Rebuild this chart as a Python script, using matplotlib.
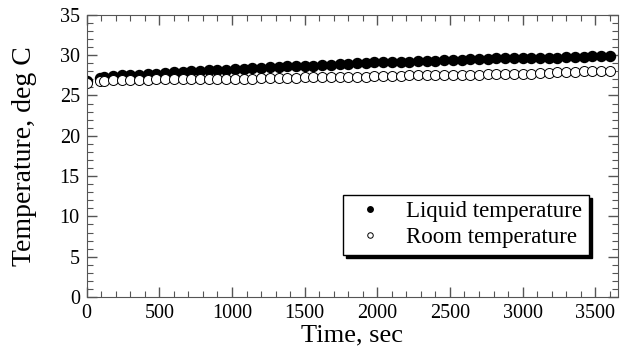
import matplotlib
matplotlib.use("Agg")
import matplotlib.pyplot as plt
from matplotlib.ticker import MultipleLocator

# sample times, sec
time_s = [0, 90, 120, 180, 240, 300, 360, 420, 480, 540,
          600, 660, 720, 780, 840, 900, 960, 1020, 1080, 1140,
          1200, 1260, 1320, 1380, 1440, 1500, 1560, 1620, 1680, 1740,
          1800, 1860, 1920, 1980, 2040, 2100, 2160, 2220, 2280, 2340,
          2400, 2460, 2520, 2580, 2640, 2700, 2760, 2820, 2880, 2940,
          3000, 3060, 3120, 3180, 3240, 3300, 3360, 3420, 3480, 3540,
          3600]

liquid_temp = [26.8, 27.2, 27.3, 27.4, 27.5, 27.5, 27.6, 27.7, 27.7, 27.8,
               27.9, 27.9, 28.0, 28.0, 28.1, 28.2, 28.2, 28.3, 28.3, 28.4,
               28.4, 28.5, 28.5, 28.6, 28.6, 28.7, 28.7, 28.8, 28.8, 28.9,
               28.9, 29.0, 29.0, 29.1, 29.1, 29.1, 29.2, 29.2, 29.3, 29.3,
               29.3, 29.4, 29.4, 29.4, 29.5, 29.5, 29.5, 29.6, 29.6, 29.6,
               29.6, 29.7, 29.7, 29.7, 29.7, 29.8, 29.8, 29.8, 29.9, 29.9,
               29.9]

room_temp = [26.6, 26.8, 26.8, 26.9, 26.9, 26.9, 26.9, 26.9, 27.0, 27.0,
             27.0, 27.0, 27.0, 27.0, 27.0, 27.1, 27.1, 27.1, 27.1, 27.1,
             27.2, 27.2, 27.2, 27.2, 27.2, 27.3, 27.3, 27.3, 27.3, 27.3,
             27.3, 27.3, 27.3, 27.4, 27.4, 27.4, 27.4, 27.5, 27.5, 27.5,
             27.5, 27.6, 27.6, 27.6, 27.6, 27.6, 27.7, 27.7, 27.7, 27.7,
             27.7, 27.7, 27.8, 27.8, 27.9, 27.9, 27.9, 28.0, 28.0, 28.0,
             28.0]

plt.rcParams['font.family'] = ['Liberation Serif', 'DejaVu Serif']

fig = plt.figure(figsize=(6.24, 3.54), dpi=100)
ax = fig.add_axes([0.139, 0.161, 0.851, 0.797])

ax.plot(time_s, liquid_temp, 'o', color='black', markersize=7.2,
        label='Liquid temperature')
ax.plot(time_s, room_temp, 'o', markerfacecolor='white', markeredgecolor='black',
        markeredgewidth=0.7, markersize=7.2, label='Room temperature')

ax.set_xlim(0, 3655)
ax.set_ylim(0, 35)
ax.xaxis.set_major_locator(MultipleLocator(500))
ax.xaxis.set_minor_locator(MultipleLocator(100))
ax.yaxis.set_major_locator(MultipleLocator(5))
ax.yaxis.set_minor_locator(MultipleLocator(1))
ax.tick_params(which='both', direction='in', top=True, right=True,
               color='#555555', labelsize=14.5, pad=5)
ax.tick_params(which='major', length=7, width=1)
ax.tick_params(which='minor', length=4, width=0.8)
for sp in ax.spines.values():
    sp.set_color('#555555')

ax.set_xlabel('Time, sec', fontsize=19, labelpad=1)
ax.set_ylabel('Temperature, deg C', fontsize=20, labelpad=16)

leg = ax.legend(loc='lower right', bbox_to_anchor=(0.945, 0.149),
                borderaxespad=0, fontsize=16.5, markerscale=0.55,
                fancybox=False, frameon=True, handletextpad=0.7,
                handlelength=1.75, labelspacing=0.2, borderpad=0.3,
                shadow={'color': 'black', 'alpha': 1.0, 'ox': 2.5, 'oy': -2.5})
leg.get_frame().set_edgecolor('black')
leg.get_frame().set_linewidth(1.0)

fig.savefig('out.png', dpi=100)
